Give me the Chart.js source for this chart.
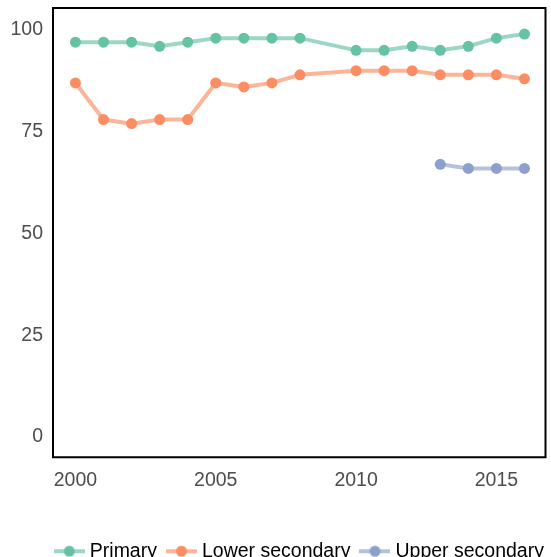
<!DOCTYPE html>
<html lang="en">
<head>
<meta charset="UTF-8">
<title>Completion rates</title>
<script src="https://cdn.jsdelivr.net/npm/chart.js@4.4.0/dist/chart.umd.min.js"></script>
<style>
  html, body { margin: 0; padding: 0; background: #fff; }
  #wrap { width: 551px; height: 557px; }
</style>
</head>
<body>
<div id="wrap"><canvas id="chart"></canvas></div>
<script>
// data
const years = [2000, 2001, 2002, 2003, 2004, 2005, 2006, 2007, 2008, 2009, 2010, 2011, 2012, 2013, 2014, 2015, 2016]
const primary = [97, 97, 97, 96, 97, 98, 98, 98, 98, null, 95, 95, 96, 95, 96, 98, 99]
const lowerSecondary = [87, 78, 77, 78, 78, 87, 86, 87, 89, null, 90, 90, 90, 89, 89, 89, 88]
const upperSecondary = [null, null, null, null, null, null, null, null, null, null, null, null, null, 67, 66, 66, 66]
const seriesNames = ['Primary', 'Lower secondary', 'Upper secondary']
const xTicks = [2000, 2005, 2010, 2015]
const yTicks = [0, 25, 50, 75, 100]

const colors = ['#66c2a5', '#fc8d62', '#8da0cb']
const lineColors = ['rgba(102,194,165,0.65)', 'rgba(252,141,98,0.65)', 'rgba(141,160,203,0.65)']
const FONT = 'Liberation Sans'

// little "line with a dot" key, like the ggplot legend
function legendIcon(i) {
  const c = document.createElement('canvas')
  c.width = 31; c.height = 14
  const g = c.getContext('2d')
  g.strokeStyle = lineColors[i]
  g.lineWidth = 4
  g.beginPath(); g.moveTo(0, 7); g.lineTo(31, 7); g.stroke()
  g.fillStyle = colors[i]
  g.beginPath(); g.arc(15.5, 7, 5.5, 0, Math.PI * 2); g.fill()
  return c
}

function toPoints(vals) {
  const pts = []
  vals.forEach((v, i) => { if (v !== null) pts.push({ x: years[i], y: v }) })
  return pts
}

const allSeries = [primary, lowerSecondary, upperSecondary]

const boxPlugin = {
  id: 'box',
  beforeDraw(chart) {
    // center the legend under the panel instead of the canvas
    const lg = chart.legend
    const a = chart.chartArea
    if (lg) {
      const mid = (a.left + a.right) / 2 + 2
      const w = lg.width
      lg.left = mid - w / 2
      lg.right = mid + w / 2
    }
  },
  afterDraw(chart) {
    const a = chart.chartArea
    const ctx = chart.ctx
    ctx.save()
    ctx.strokeStyle = '#000'
    ctx.lineWidth = 2
    ctx.strokeRect(a.left, a.top, a.right - a.left, a.bottom - a.top)
    ctx.restore()
  }
}

const ctx = document.getElementById('chart').getContext('2d')
new Chart(ctx, {
  type: 'line',
  data: {
    datasets: allSeries.map((s, i) => ({
      label: seriesNames[i],
      data: toPoints(s),
      borderColor: lineColors[i],
      backgroundColor: colors[i],
      pointBackgroundColor: colors[i],
      pointBorderWidth: 0,
      pointRadius: 5.5,
      pointStyle: 'circle',
      borderWidth: 4,
      fill: false,
      tension: 0
    }))
  },
  options: {
    responsive: true,
    maintainAspectRatio: false,
    animation: false,
    layout: { padding: { left: 0, right: 3, top: 8, bottom: -14 } },
    plugins: {
      tooltip: { enabled: false },
      legend: {
        position: 'bottom',
        labels: {
          usePointStyle: true,
          pointStyleWidth: 21.5,
          padding: 13.75,
          color: '#000',
          font: { family: FONT, size: 19.5 },
          generateLabels(chart) {
            return seriesNames.map((n, i) => ({
              text: n, pointStyle: legendIcon(i), datasetIndex: i,
              fillStyle: colors[i], strokeStyle: colors[i], lineWidth: 0, hidden: false
            }))
          }
        }
      }
    },
    scales: {
      x: {
        type: 'linear',
        min: 1999.2,
        max: 2016.75,
        grid: { display: false },
        border: { display: false },
        afterBuildTicks(axis) { axis.ticks = xTicks.map(v => ({ value: v })) },
        afterFit(axis) { axis.height = 70.5; axis.paddingLeft = 0; axis.paddingRight = 0 },
        ticks: {
          color: '#4d4d4d',
          font: { family: FONT, size: 19.5 },
          padding: 4,
          maxRotation: 0,
          callback: v => String(v)
        }
      },
      y: {
        min: -4.95,
        max: 105.4,
        grid: { display: false },
        border: { display: false },
        afterBuildTicks(axis) { axis.ticks = yTicks.map(v => ({ value: v })) },
        afterFit(axis) { axis.width = 53; axis.paddingTop = 0; axis.paddingBottom = 0 },
        ticks: {
          color: '#4d4d4d',
          font: { family: FONT, size: 19.5 },
          padding: 2
        }
      }
    }
  },
  plugins: [boxPlugin]
})
</script>
</body>
</html>
